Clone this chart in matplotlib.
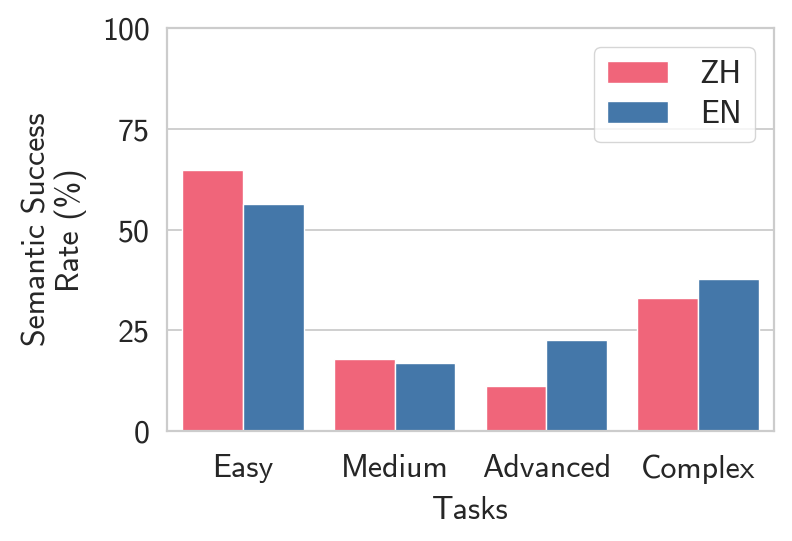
import numpy as np
import matplotlib
matplotlib.use('Agg')
import matplotlib.pyplot as plt
import seaborn as sns

# Data
tasks = ['Easy', 'Medium', 'Advanced', 'Complex']
zh_rate = [64.8, 17.8, 11.1, 33.0]
en_rate = [56.3, 17.0, 22.7, 37.7]
y_ticks = [0, 25, 50, 75, 100]

sns.set_style('whitegrid')
plt.rcParams['font.family'] = ['cmss10', 'DejaVu Sans']
plt.rcParams['axes.unicode_minus'] = False

fig = plt.figure(figsize=(7.92, 5.41), dpi=100)
ax = fig.add_axes([0.211, 0.203, 0.766, 0.745])

x = np.arange(len(tasks))
width = 0.4
ax.bar(x - width / 2, zh_rate, width, color='#F0657A', edgecolor='white',
       linewidth=1, label='ZH')
ax.bar(x + width / 2, en_rate, width, color='#4477A9', edgecolor='white',
       linewidth=1, label='EN')

ax.set_xlim(-0.5, len(tasks) - 0.5)
ax.set_ylim(0, 100)
ax.set_yticks(y_ticks)
ax.set_xticks(x)
ax.set_xticklabels(tasks)
ax.tick_params(labelsize=23, colors='#262626')
ax.tick_params(axis='x', pad=13)
ax.tick_params(axis='y', pad=9)
ax.grid(axis='x', visible=False)
ax.grid(axis='y', color='#cccccc', linewidth=1.3)
for s in ax.spines.values():
    s.set_color('#cccccc')
    s.set_linewidth(1.6)

ax.set_xlabel('Tasks', fontsize=23, color='#262626', labelpad=9)
ax.set_ylabel('Semantic Success\nRate (%)', fontsize=23, color='#262626',
              linespacing=1.1, labelpad=11)

ax.legend(loc='upper right', fontsize=23, handlelength=1.9, handletextpad=1.0,
          borderpad=0.4, labelspacing=0.35, borderaxespad=0.6,
          frameon=True, edgecolor='#cccccc')

plt.savefig('out.png', dpi=100)
